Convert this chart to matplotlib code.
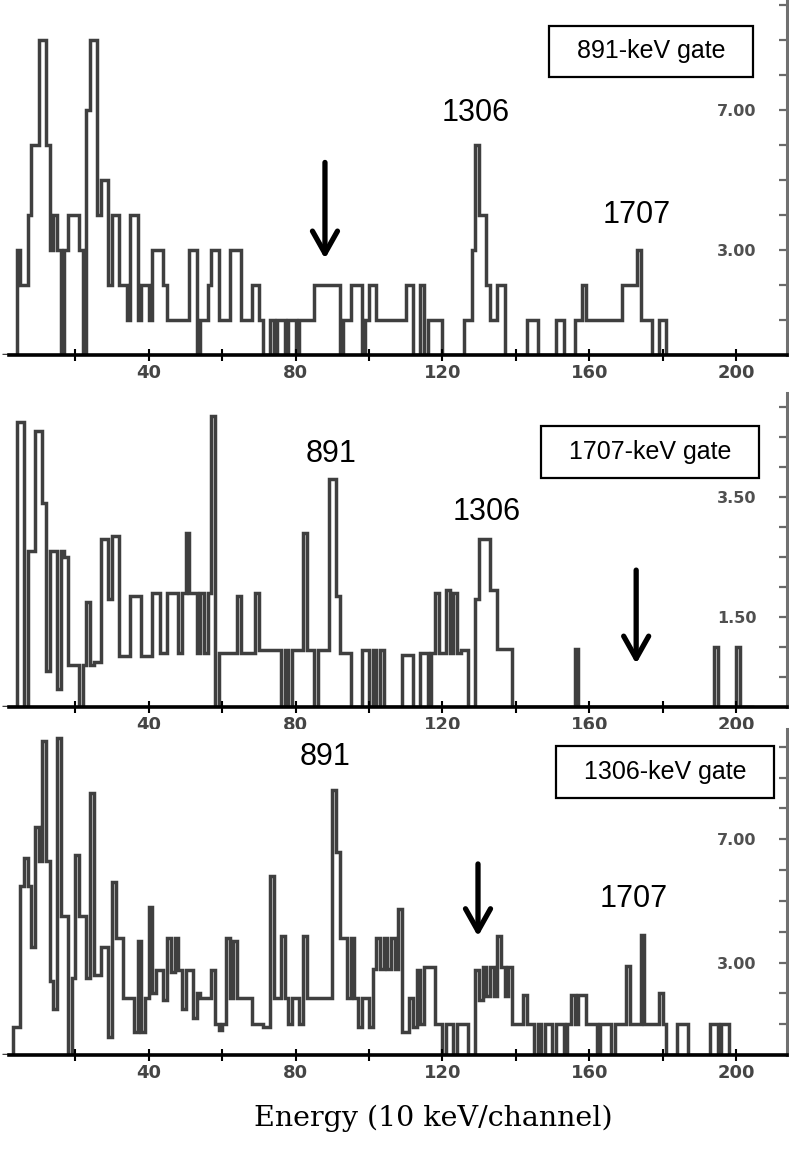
import numpy as np
import matplotlib.pyplot as plt

# counts per channel (10 keV/channel)
gate_891 = [
    0, 0, 0, 0, 3, 2, 2, 4, 6, 6,
    9, 9, 6, 3, 4, 3, 0, 3, 4, 4,
    4, 3, 0, 7, 9, 9, 4, 5, 5, 2,
    4, 4, 2, 2, 1, 4, 4, 1, 2, 2,
    1, 3, 3, 3, 2, 1, 1, 1, 1, 1,
    1, 3, 3, 0, 1, 1, 2, 3, 3, 1,
    1, 1, 3, 3, 3, 1, 1, 1, 2, 2,
    1, 0, 0, 1, 0, 1, 1, 0, 1, 1,
    0, 1, 1, 1, 1, 2, 2, 2, 2, 2,
    2, 2, 0, 1, 1, 2, 2, 2, 0, 1,
    2, 2, 1, 1, 1, 1, 1, 1, 1, 1,
    2, 2, 0, 0, 2, 0, 1, 1, 1, 1,
    0, 0, 0, 0, 0, 0, 1, 1, 3, 6,
    4, 4, 2, 1, 1, 2, 2, 0, 0, 0,
    0, 0, 0, 1, 1, 1, 0, 0, 0, 0,
    0, 1, 1, 0, 0, 0, 1, 1, 2, 1,
    1, 1, 1, 1, 1, 1, 1, 1, 1, 2,
    2, 2, 2, 3, 1, 1, 1, 0, 0, 1,
    1, 0, 0, 0, 0, 0, 0, 0, 0, 0,
]

gate_1707 = [
    0, 0, 0, 0, 4.75, 4.75, 0, 2.6, 2.6, 4.6,
    4.6, 3.4, 0.6, 2.6, 2.6, 0.3, 2.6, 2.5, 0.7, 0.7,
    0.7, 0, 0.7, 1.75, 0.7, 0.75, 0.75, 2.8, 2.8, 1.8,
    2.85, 2.85, 0.85, 0.85, 0.85, 1.85, 1.85, 1.85, 0.85, 0.85,
    0.85, 1.9, 1.9, 0.9, 0.9, 1.9, 1.9, 1.9, 0.9, 1.9,
    2.9, 1.9, 1.9, 0.9, 1.9, 0.9, 1.9, 4.85, 0, 0.9,
    0.9, 0.9, 0.9, 0.9, 1.85, 0.9, 0.9, 0.9, 0.9, 1.9,
    0.95, 0.95, 0.95, 0.95, 0.95, 0.95, 0, 0.95, 0, 0.95,
    0.95, 0.95, 2.9, 0.95, 0.95, 0, 0.95, 0.95, 0.95, 3.8,
    3.8, 1.85, 0.9, 0.9, 0.9, 0, 0, 0, 0.95, 0.95,
    0, 0.95, 0, 0.95, 0, 0, 0, 0, 0, 0.86,
    0.86, 0.86, 0, 0, 0.9, 0.9, 0, 0.9, 1.9, 0.9,
    0.9, 1.95, 0.9, 1.9, 0.9, 0.95, 0.95, 0, 0, 1.8,
    2.8, 2.8, 2.8, 1.95, 1.95, 0.97, 0.97, 0.97, 0.97, 0,
    0, 0, 0, 0, 0, 0, 0, 0, 0, 0,
    0, 0, 0, 0, 0, 0, 0.97, 0, 0, 0,
    0, 0, 0, 0, 0, 0, 0, 0, 0, 0,
    0, 0, 0, 0, 0, 0, 0, 0, 0, 0,
    0, 0, 0, 0, 0, 0, 0, 0, 0, 0,
    0, 0, 0, 0, 1, 0, 0, 0, 0, 0,
    1, 0, 0, 0, 0,
]

gate_1306 = [
    0, 0, 0, 0.9, 0.9, 5.5, 6.4, 5.5, 3.5, 7.4,
    6.3, 10.2, 6.3, 2.4, 1.5, 10.3, 4.5, 4.5, 0, 2.5,
    6.5, 4.5, 4.5, 2.5, 8.5, 2.6, 2.6, 3.5, 3.5, 0.6,
    5.6, 3.8, 3.8, 1.85, 1.85, 1.85, 0.75, 3.7, 0.75, 1.85,
    4.8, 2.0, 2.75, 2.75, 1.8, 3.8, 2.7, 3.8, 2.75, 1.5,
    2.75, 2.75, 1.2, 2.0, 1.85, 1.85, 1.85, 2.75, 1.0, 0.8,
    1.0, 3.8, 1.85, 3.7, 1.85, 1.85, 1.85, 1.85, 1.0, 1.0,
    1.0, 0.9, 0.9, 5.8, 1.85, 1.85, 3.85, 1.85, 1.0, 1.85,
    1.85, 1.0, 3.85, 1.85, 1.85, 1.85, 1.85, 1.85, 1.85, 1.85,
    8.6, 6.6, 3.8, 3.8, 1.85, 3.8, 1.85, 0.9, 1.85, 1.85,
    0.9, 2.8, 3.8, 2.8, 3.8, 2.8, 3.8, 2.8, 4.75, 0.75,
    0.75, 1.85, 0.9, 2.75, 1.0, 2.85, 2.85, 2.85, 1.0, 1.0,
    0, 1.0, 1.0, 0, 1.0, 1.0, 1.0, 0, 0, 2.75,
    1.8, 2.85, 1.9, 2.85, 1.9, 3.85, 2.85, 1.9, 2.85, 1.0,
    1.0, 1.0, 1.95, 1.0, 1.0, 0, 1.0, 0, 1.0, 1.0,
    0, 1.0, 1.0, 0, 1.0, 1.95, 1.0, 1.95, 1.95, 1.0,
    1.0, 1.0, 0, 1.0, 1.0, 1.0, 0, 1.0, 1.0, 1.0,
    2.9, 1.0, 1.0, 1.0, 3.9, 1.0, 1.0, 1.0, 1.0, 2.0,
    1.0, 0, 0, 0, 1.0, 1.0, 1.0, 0, 0, 0,
    0, 0, 0, 1.0, 1.0, 0, 1.0, 1.0, 0, 0,
]

gate_labels = ["891-keV gate", "1707-keV gate", "1306-keV gate"]
peak_labels = [["1306", "1707"], ["891", "1306"], ["891", "1707"]]

W, H = 789, 1155
fig = plt.figure(figsize=(W / 100, H / 100), dpi=100)

x0, x1 = -0.55, 213.9
# (baseline px, top px, y-max, y tick step, labelled ticks)
layout = [
    (355, 0, 10.14, 1.0, [3, 7]),
    (707, 393, 5.23, 0.5, [1.5, 3.5]),
    (1055, 729, 10.58, 1.0, [3, 7]),
]
# annotation positions in data units: (peak label xy list, gate box xy, arrow x, arrow y0, y1)
notes = [
    ([(129, 6.9), (173, 4.0)], (176.8, 8.67), 88, 5.5, 2.75),
    ([(89.6, 4.22), (132.2, 3.25)], (176.6, 4.25), 172.8, 2.28, 0.72),
    ([(88, 9.68), (172.2, 5.06)], (180.6, 9.19), 129.7, 6.2, 3.85),
]

for counts, (base, top, ymax, step, lab), glabel, plabels, note in zip(
        [gate_891, gate_1707, gate_1306], layout, gate_labels, peak_labels, notes):
    ax = fig.add_axes([0, 1 - base / H, 787 / W, (base - top) / H])
    counts = np.array(counts, dtype=float)
    edges = np.arange(len(counts) + 1)
    ax.stairs(counts, edges, baseline=0, color='#3f3f3f', lw=2.5)
    ax.set_xlim(x0, x1)
    ax.set_ylim(0, ymax)

    for s in ['left', 'top']:
        ax.spines[s].set_visible(False)
    ax.spines['bottom'].set_linewidth(2.6)
    ax.spines['bottom'].set_color('black')
    ax.spines['bottom'].set_bounds(2, x1)
    ax.spines['right'].set_linewidth(2.2)
    ax.spines['right'].set_color('#707070')

    xt = np.arange(20, 201, 20)
    ax.set_xticks(xt)
    ax.set_xticklabels([str(t) if t % 40 == 0 else '' for t in xt],
                       fontsize=13, fontweight='bold', color='#454545')
    ax.tick_params(axis='x', direction='inout', length=9, width=1.5, pad=2)

    ax.yaxis.tick_right()
    yt = np.arange(step, ymax, step)
    ax.set_yticks(yt)
    ax.set_yticklabels(['%.2f' % t if any(abs(t - l) < 1e-6 for l in lab) else ''
                        for t in yt], fontsize=11.5, fontweight='bold', color='#505050')
    ax.tick_params(axis='y', direction='in', length=6, width=1.6, colors='#6a6a6a',
                   pad=-22)
    for t in ax.get_yticklabels():
        t.set_ha('right')
        t.set_color('#505050')

    (p1, p2), gxy, ax_x, ay0, ay1 = note
    for txt, xy in zip(plabels, (p1, p2)):
        ax.text(xy[0], xy[1], txt, ha='center', va='center', fontsize=22,
                family='Liberation Sans', color='black')
    ax.text(gxy[0], gxy[1], '  ' + glabel + '  ', ha='center', va='center',
            fontsize=18, family='Liberation Sans', color='black',
            bbox=dict(boxstyle='square,pad=0.55', fc='white', ec='black', lw=1.6))
    ax.annotate('', xy=(ax_x, ay1), xytext=(ax_x, ay0),
                arrowprops=dict(arrowstyle='->,head_length=0.8,head_width=0.45',
                                lw=3.8, color='black', mutation_scale=20,
                                shrinkA=0, shrinkB=0))

fig.text(433 / W, 1 - 1118 / H, 'Energy (10 keV/channel)', family='DejaVu Serif',
         fontsize=20.5, ha='center', va='center', color='black')

fig.savefig('out.png', dpi=100, facecolor='white')
